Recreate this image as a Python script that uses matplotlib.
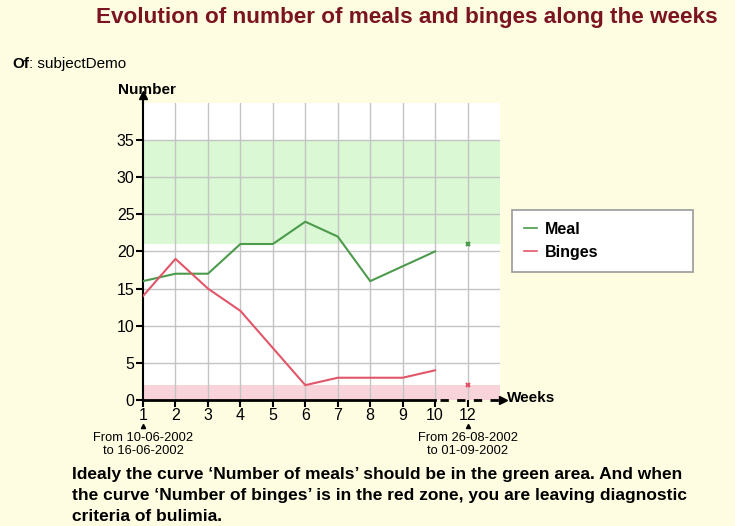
import matplotlib.pyplot as plt
from matplotlib.lines import Line2D

# ------------------------------------------------------------------
# data
# ------------------------------------------------------------------
weeks        = ["1", "2", "3", "4", "5", "6", "7", "8", "9", "10", "12"]
meals        = [16, 17, 17, 21, 21, 24, 22, 16, 18, 20]
binges       = [14, 19, 15, 12, 7, 2, 3, 3, 3, 4]
meal_target  = 21          # week 12 marker
binge_target = 2           # week 12 marker
green_zone   = (21, 35)
red_zone     = (0, 2)
y_ticks      = [0, 5, 10, 15, 20, 25, 30, 35]
first_period = "From 10-06-2002\nto 16-06-2002"
last_period  = "From 26-08-2002\nto 01-09-2002"

BG     = "#fefde2"
GREEN  = "#4c9a4c"
RED    = "#e2566a"
FONT   = "Liberation Sans"
plt.rcParams["font.family"] = [FONT, "DejaVu Sans"]

fig = plt.figure(figsize=(7.35, 5.26), dpi=100, facecolor=BG)
ax = fig.add_axes([0.1946, 0.2395, 0.4857, 0.565])
ax.set_facecolor("white")

x = list(range(len(weeks)))
ax.set_xlim(0, 11)
ax.set_ylim(0, 40)

# zones
ax.axhspan(*green_zone, color="#d9f8d3", lw=0, zorder=0)
ax.axhspan(*red_zone, color="#f9d3da", lw=0, zorder=0)

# grid
for xi in x[1:]:
    ax.axvline(xi, color="#c4c4c4", lw=1, zorder=1)
for yi in y_ticks[1:]:
    ax.axhline(yi, color="#c4c4c4", lw=1, zorder=1)

# curves
ax.plot(x[:len(meals)], meals, color=GREEN, lw=1.5, zorder=3)
ax.plot(x[:len(binges)], binges, color=RED, lw=1.5, zorder=3)
ax.plot(x[-1], meal_target, marker="x", ms=3.5, mew=1.5, color=GREEN, zorder=4)
ax.plot(x[-1], binge_target, marker="x", ms=3.5, mew=1.5, color=RED, zorder=4)

# axes
for s in ["top", "right", "bottom"]:
    ax.spines[s].set_visible(False)
ax.spines["left"].set_linewidth(1.5)
ax.plot([0, 0], [40, 41], color="black", lw=1.5, clip_on=False)
ax.plot(0, 41, marker="^", ms=6, color="black", clip_on=False)
ax.plot([0, x[-2]], [0, 0], color="black", lw=2, clip_on=False, zorder=5)
ax.plot([x[-2] + 0.15, 11], [0, 0], color="black", lw=2, ls=(0, (3, 3)), clip_on=False, zorder=5)
ax.plot(11.1, 0, marker=">", ms=6, color="black", clip_on=False)

ax.set_xticks(x)
ax.set_xticklabels(weeks, fontsize=11.5)
ax.set_yticks(y_ticks)
ax.set_yticklabels([str(v) for v in y_ticks], fontsize=11.5)
ax.tick_params(axis="both", direction="out", length=5, width=1.5, color="black", pad=1)

# axis names
fig.text(118 / 735, 1 - 90 / 526, "Number", fontsize=11, fontweight="bold", va="center")
fig.text(507 / 735, 1 - 398 / 526, "Weeks", fontsize=11, fontweight="bold", va="center")

# period labels under first and last week
for xi, lab in [(x[0], first_period), (x[-1], last_period)]:
    ax.plot(xi, -3.5, marker="^", ms=3, color="black", clip_on=False)
    ax.text(xi, -4.3, lab, ha="center", va="top", fontsize=9.3, linespacing=1.1)

# legend
handles = [Line2D([], [], color=GREEN, lw=1.2), Line2D([], [], color=RED, lw=1.2)]
leg = fig.legend(handles, ["Meal", "Binges"], loc="upper left", mode="expand",
                 bbox_to_anchor=(512 / 735, 1 - 269 / 526, 181 / 735, 59 / 526),
                 handlelength=0.8, borderaxespad=0,
                 prop={"family": FONT, "weight": "bold", "size": 11.5},
                 fancybox=False, edgecolor="#999999", framealpha=1,
                 borderpad=0.75, labelspacing=0.5, handletextpad=0.5)
leg.get_frame().set_linewidth(1.2)

# title and texts
fig.text(407 / 735, 1 - 18 / 526, "Evolution of number of meals and binges along the weeks",
         ha="center", va="center", fontsize=16.2, fontweight="bold", color="#7a1420")
fig.text(12 / 735, 1 - 64 / 526, "Of", fontsize=11, fontweight="bold", va="center")
fig.text(29 / 735, 1 - 64 / 526, ": subjectDemo", fontsize=11, va="center")
fig.text(72 / 735, 1 - 467 / 526,
         "Idealy the curve \u2018Number of meals\u2019 should be in the green area. And when\n"
         "the curve \u2018Number of binges\u2019 is in the red zone, you are leaving diagnostic\n"
         "criteria of bulimia.",
         fontsize=12.5, fontweight="bold", va="top", linespacing=1.5)

fig.savefig("out.png", dpi=100, facecolor=BG)
